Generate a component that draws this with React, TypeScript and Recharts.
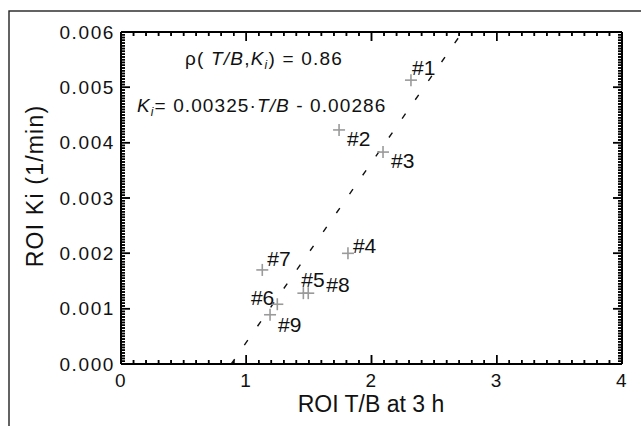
import React from "react";
import * as R from "recharts";
import {
  ScatterChart,
  Scatter,
  XAxis,
  YAxis,
  ReferenceLine,
  LabelList,
  Customized,
} from "recharts";

// ---- data ----
const pointIds = ["#1", "#2", "#3", "#4", "#5", "#6", "#7", "#8", "#9"];
const tbValues = [2.315, 1.741, 2.092, 1.812, 1.456, 1.248, 1.128, 1.495, 1.19];
const kiValues = [0.00513, 0.00423, 0.00383, 0.002, 0.00128, 0.00108, 0.0017, 0.00128, 0.00089];
// label placement relative to marker (style, not data)
const labelPlacement = [
  { dx: 1, dy: -5, anchor: "start" },
  { dx: 8, dy: 16, anchor: "start" },
  { dx: 8, dy: 16, anchor: "start" },
  { dx: 5, dy: 0, anchor: "start" },
  { dx: -2, dy: -6, anchor: "start" },
  { dx: -3, dy: 1, anchor: "end" },
  { dx: 5, dy: -4, anchor: "start" },
  { dx: 18, dy: -1, anchor: "start" },
  { dx: 8, dy: 17, anchor: "start" },
];

const fitSlope = 0.00325;
const fitIntercept = -0.00286;
const rhoText = "0.86";

const xMajorTicks = [0, 1, 2, 3, 4];
const yMajorTicks = [0, 0.001, 0.002, 0.003, 0.004, 0.005, 0.006];
const xTickLabels = ["0", "1", "2", "3", "4"];
const yTickLabels = ["0.000", "0.001", "0.002", "0.003", "0.004", "0.005", "0.006"];
const xTitle = "ROI T/B at 3 h";
const yTitle = "ROI Ki (1/min)";

const X_MINOR_PER_MAJOR = 10;
const Y_MINOR_PER_MAJOR = 20;

const xAllTicks: number[] = [];
for (let i = 0; i < xMajorTicks.length - 1; i++) {
  const a = xMajorTicks[i];
  const b = xMajorTicks[i + 1];
  for (let k = 0; k < X_MINOR_PER_MAJOR; k++) xAllTicks.push(+(a + ((b - a) * k) / X_MINOR_PER_MAJOR).toFixed(6));
}
xAllTicks.push(xMajorTicks[xMajorTicks.length - 1]);

const yAllTicks: number[] = [];
for (let i = 0; i < yMajorTicks.length - 1; i++) {
  const a = yMajorTicks[i];
  const b = yMajorTicks[i + 1];
  for (let k = 0; k < Y_MINOR_PER_MAJOR; k++) yAllTicks.push(+(a + ((b - a) * k) / Y_MINOR_PER_MAJOR).toFixed(8));
}
yAllTicks.push(yMajorTicks[yMajorTicks.length - 1]);

const points = pointIds.map((id, i) => ({ id, tb: tbValues[i], ki: kiValues[i] }));

const X_DOMAIN: [number, number] = [xMajorTicks[0], xMajorTicks[xMajorTicks.length - 1]];
const Y_DOMAIN: [number, number] = [yMajorTicks[0], yMajorTicks[yMajorTicks.length - 1]];

const fitSegment = [
  { x: (Y_DOMAIN[0] - fitIntercept) / fitSlope, y: Y_DOMAIN[0] },
  { x: (Y_DOMAIN[1] - fitIntercept) / fitSlope, y: Y_DOMAIN[1] },
];

const isXMajor = (v: number) => xMajorTicks.some((m) => Math.abs(m - v) < 1e-6);
const isYMajor = (v: number) => yMajorTicks.some((m) => Math.abs(m - v) < 1e-8);

const FONT = "'Liberation Sans', Arial, Helvetica, sans-serif";
const MAJOR_LEN = 9;
const MINOR_LEN = 4;
const CHART_W = 641;
const CHART_H = 426;
const MARGIN = { top: 32, right: 19, bottom: 61, left: 120 };
const PLOT_W = CHART_W - MARGIN.left - 1 - MARGIN.right;
const PLOT_H = CHART_H - MARGIN.top - MARGIN.bottom - 1;

// tick lengths expressed in data units of each axis
const xUnitsPerPx = (X_DOMAIN[1] - X_DOMAIN[0]) / PLOT_W;
const yUnitsPerPx = (Y_DOMAIN[1] - Y_DOMAIN[0]) / PLOT_H;

type Seg = { key: string; seg: { x: number; y: number }[] };
const tickSegments: Seg[] = [];
xAllTicks.forEach((v) => {
  const ly = (isXMajor(v) ? MAJOR_LEN : MINOR_LEN) * yUnitsPerPx;
  tickSegments.push({ key: "b" + v, seg: [{ x: v, y: Y_DOMAIN[0] }, { x: v, y: Y_DOMAIN[0] + ly }] });
  tickSegments.push({ key: "t" + v, seg: [{ x: v, y: Y_DOMAIN[1] }, { x: v, y: Y_DOMAIN[1] - ly }] });
});
yAllTicks.forEach((v) => {
  const lx = (isYMajor(v) ? MAJOR_LEN : MINOR_LEN) * xUnitsPerPx;
  tickSegments.push({ key: "l" + v, seg: [{ x: X_DOMAIN[0], y: v }, { x: X_DOMAIN[0] + lx, y: v }] });
  tickSegments.push({ key: "r" + v, seg: [{ x: X_DOMAIN[1], y: v }, { x: X_DOMAIN[1] - lx, y: v }] });
});

const fmtX = (v: number) => {
  const i = xMajorTicks.findIndex((m) => Math.abs(m - v) < 1e-6);
  return i >= 0 ? xTickLabels[i] : "";
};
const fmtY = (v: number) => {
  const i = yMajorTicks.findIndex((m) => Math.abs(m - v) < 1e-8);
  return i >= 0 ? yTickLabels[i] : "";
};

const axisLineStyle = { stroke: "#000", strokeWidth: 2 };
const labelStyle = { fontSize: 19, fontFamily: FONT, fill: "#111", letterSpacing: 1.6 };

const PlusShape = (props: any) => {
  const { cx, cy } = props;
  const h = 6;
  return (
    <g>
      <line x1={cx - h} x2={cx + h} y1={cy} y2={cy} stroke="#9a9a9a" strokeWidth={1.6} />
      <line x1={cx} x2={cx} y1={cy - h} y2={cy + h} stroke="#9a9a9a" strokeWidth={1.6} />
    </g>
  );
};

const PointLabel = (props: any) => {
  const { x, y, width, height, index, value } = props;
  const cx = x + (width || 0) / 2;
  const cy = y + (height || 0) / 2;
  const p = labelPlacement[index];
  return (
    <text x={cx + p.dx} y={cy + p.dy} textAnchor={p.anchor} fontFamily={FONT} fontSize={21} fill="#111">
      {value}
    </text>
  );
};

const fallbackArea = { x: MARGIN.left + 1, y: MARGIN.top, width: PLOT_W, height: PLOT_H };
const usePlotAreaHook: any = (R as any).usePlotArea;
const useArea = () => {
  const a = usePlotAreaHook ? usePlotAreaHook() : null;
  return a && typeof a.x === "number" && a.width > 0 && a.height > 0 ? a : fallbackArea;
};

const AxisTicks = () => {
  const area = useArea();
  const sx = (v: number) => area.x + ((v - X_DOMAIN[0]) / (X_DOMAIN[1] - X_DOMAIN[0])) * area.width;
  const sy = (v: number) => area.y + area.height - ((v - Y_DOMAIN[0]) / (Y_DOMAIN[1] - Y_DOMAIN[0])) * area.height;
  let d = "";
  tickSegments.forEach((t) => {
    d += `M${sx(t.seg[0].x).toFixed(2)},${sy(t.seg[0].y).toFixed(2)}L${sx(t.seg[1].x).toFixed(2)},${sy(t.seg[1].y).toFixed(2)}`;
  });
  return <path d={d} stroke="#000" strokeWidth={1.5} fill="none" />;
};

const Annotations = () => (
  <g fontFamily={FONT} fill="#111">
    <AxisTicks />
    <rect x={9} y={11} width={640} height={430} fill="none" stroke="#222" strokeWidth={1.4} />
    <text x={185} y={65} fontSize={19} letterSpacing={1.2}>
      {"ρ( "}
      <tspan fontStyle="italic">T/B</tspan>
      {","}
      <tspan fontStyle="italic">K</tspan>
      <tspan fontStyle="italic" fontSize={12} dy={4}>i</tspan>
      <tspan dy={-4}>{") = " + rhoText}</tspan>
    </text>
    <text x={137} y={112} fontSize={19} letterSpacing={1.1}>
      <tspan fontStyle="italic">K</tspan>
      <tspan fontStyle="italic" fontSize={12} dy={4}>i</tspan>
      <tspan dy={-4}>{"= " + fitSlope.toFixed(5) + "·"}</tspan>
      <tspan fontStyle="italic">T/B</tspan>
      <tspan>{" - " + Math.abs(fitIntercept).toFixed(5)}</tspan>
    </text>
    <text x={371} y={412} textAnchor="middle" fontSize={23}>
      {xTitle}
    </text>
    <text x={43} y={186} textAnchor="middle" fontSize={23} letterSpacing={1.2} transform="rotate(-90 43 186)">
      {yTitle}
    </text>
  </g>
);

export default function App() {
  return (
    <div style={{ position: "absolute", left: 0, top: 0, width: CHART_W, height: CHART_H, background: "#fff" }}>
      <ScatterChart width={CHART_W} height={CHART_H} margin={MARGIN}>
        <XAxis
          xAxisId="xb"
          type="number"
          dataKey="tb"
          orientation="bottom"
          domain={X_DOMAIN}
          ticks={xMajorTicks}
          interval={0}
          height={1}
          tickSize={0}
          tickMargin={10}
          tickLine={false}
          axisLine={axisLineStyle}
          tick={labelStyle}
          tickFormatter={fmtX}
        />
        <YAxis
          yAxisId="yl"
          type="number"
          dataKey="ki"
          orientation="left"
          domain={Y_DOMAIN}
          ticks={yMajorTicks}
          interval={0}
          width={1}
          tickSize={0}
          tickMargin={6}
          tickLine={false}
          axisLine={axisLineStyle}
          tick={labelStyle}
          tickFormatter={fmtY}
        />
        <XAxis xAxisId="xt" type="number" orientation="top" mirror domain={X_DOMAIN} ticks={xMajorTicks} height={1} tick={false} tickLine={false} axisLine={axisLineStyle} />
        <YAxis yAxisId="yr" type="number" orientation="right" mirror domain={Y_DOMAIN} ticks={yMajorTicks} width={1} tick={false} tickLine={false} axisLine={axisLineStyle} />
        {tickSegments.map((t) => (
          <ReferenceLine
            key={t.key}
            xAxisId="xb"
            yAxisId="yl"
            segment={t.seg}
            stroke="#000"
            strokeWidth={1.5}
            ifOverflow="visible"
          />
        ))}
        <ReferenceLine
          xAxisId="xb"
          yAxisId="yl"
          segment={fitSegment}
          stroke="#111"
          strokeWidth={1.4}
          strokeDasharray="6 17"
          ifOverflow="visible"
        />
        <Scatter xAxisId="xb" yAxisId="yl" data={points} shape={<PlusShape />} isAnimationActive={false}>
          <LabelList dataKey="id" content={<PointLabel />} />
        </Scatter>
        <Customized component={<Annotations />} />
      </ScatterChart>
    </div>
  );
}
